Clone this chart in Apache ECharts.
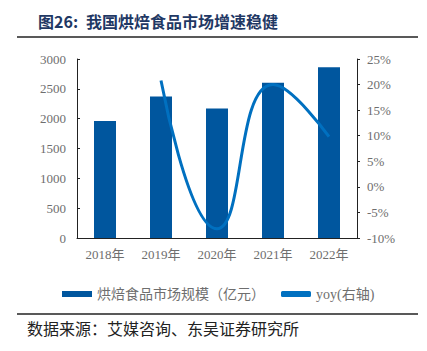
<!DOCTYPE html>
<html>
<head>
<meta charset="utf-8">
<script src="https://cdn.jsdelivr.net/npm/echarts@6/dist/echarts.min.js"></script>
<style>
  html, body { margin: 0; padding: 0; background: #fff; }
  #chart { width: 427px; height: 351px; }
</style>
</head>
<body>
<div id="chart"></div>
<script>
var years = ['2018年', '2019年', '2020年', '2021年', '2022年'];
var marketSize = [1960, 2370, 2170, 2600, 2860];
var yoy = [null, 20.8, -8.2, 20.0, 9.8];

var barColor = '#00569e';
var lineColor = '#0070c0';
var tickColor = '#6e6e6e';
var serif = '"Liberation Serif", "Noto Sans CJK SC", serif';
var cjk = '"Noto Sans CJK SC", sans-serif';

var chart = echarts.init(document.getElementById('chart'), null, { renderer: 'svg' });
chart.setOption({
  animation: false,
  graphic: [
    { type: 'text', left: 38, top: 13, style: { text: '图26:', fill: '#1f3864', font: 'bold 16px ' + cjk } },
    { type: 'text', left: 86, top: 13, style: { text: '我国烘焙食品市场增速稳健', fill: '#1f3864', font: 'bold 16px ' + cjk } },
    { type: 'line', shape: { x1: 17, y1: 37, x2: 418, y2: 37 }, style: { stroke: '#222', lineWidth: 1.5 } },
    { type: 'line', shape: { x1: 17, y1: 314, x2: 418, y2: 314 }, style: { stroke: '#222', lineWidth: 1.5 } },
    { type: 'text', left: 27, top: 320, style: { text: '数据来源：艾媒咨询、东吴证券研究所', fill: '#222', font: '16px ' + cjk } }
  ],
  grid: { left: 77, right: 70, top: 59, bottom: 113 },
  legend: {
    top: 282,
    left: 57,
    itemGap: 16,
    itemWidth: 30,
    itemHeight: 6,
    textStyle: { color: tickColor, fontFamily: serif, fontSize: 14 },
    data: [
      { name: '烘焙食品市场规模（亿元）', icon: 'rect' },
      { name: 'yoy(右轴)', icon: 'roundRect' }
    ]
  },
  xAxis: {
    type: 'category',
    data: years,
    axisLine: { lineStyle: { color: '#222' } },
    axisTick: { inside: true, length: 4, lineStyle: { color: '#222' } },
    axisLabel: { color: tickColor, fontFamily: serif, fontSize: 13, margin: 10 }
  },
  yAxis: [
    {
      type: 'value', min: 0, max: 3000, interval: 500,
      axisLine: { show: true, lineStyle: { color: '#222' } },
      axisTick: { show: true, inside: true, length: 3, lineStyle: { color: '#222' } },
      axisLabel: { color: tickColor, fontFamily: serif, fontSize: 13, margin: 11, formatter: function (v) { return String(v); } },
      splitLine: { show: false }
    },
    {
      type: 'value', min: -10, max: 25, interval: 5,
      axisLine: { show: true, lineStyle: { color: '#222' } },
      axisTick: { show: true, length: 3, lineStyle: { color: '#222' } },
      axisLabel: { color: tickColor, fontFamily: serif, fontSize: 13, margin: 10, formatter: '{value}%' },
      splitLine: { show: false }
    }
  ],
  series: [
    {
      name: '烘焙食品市场规模（亿元）',
      type: 'bar',
      data: marketSize,
      barWidth: 22,
      itemStyle: { color: barColor }
    },
    {
      name: 'yoy(右轴)',
      type: 'line',
      yAxisIndex: 1,
      data: yoy,
      smooth: 0.5,
      symbol: 'none',
      lineStyle: { color: lineColor, width: 3 },
      itemStyle: { color: lineColor }
    }
  ]
});
</script>
</body>
</html>
